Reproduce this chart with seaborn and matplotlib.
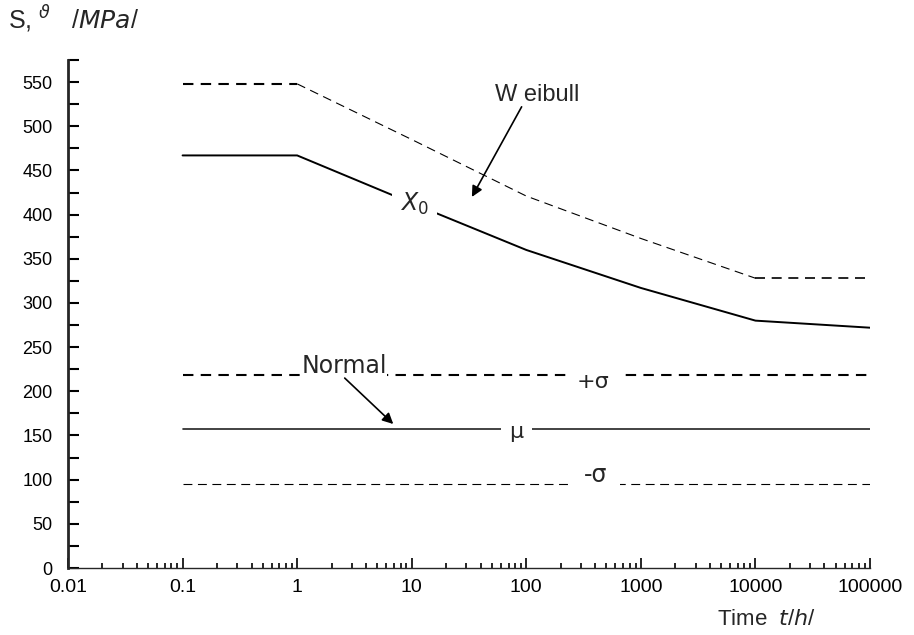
import numpy as np
import pandas as pd
import matplotlib.pyplot as plt
import matplotlib.ticker as mticker
import seaborn as sns

# Valeurs (temps en h, contrainte en MPa)
t_start = [0.1, 1]
weibull_start = [548, 548]
t_weibull_slope = [1, 10, 100, 1000, 10000]
weibull_slope = [548, 485, 421, 373, 328]
t_weibull_tail = [10000, 100000]
weibull_tail = [328, 328]

t_x0 = [0.1, 1, 10, 100, 1000, 10000, 100000]
x0_values = [467, 467, 413, 360, 317, 280, 272]

t_normal = [0.1, 100000]
plus_sigma = [218, 218]
mu = [157, 157]
minus_sigma = [95, 95]

x_ticks = [0.01, 0.1, 1, 10, 100, 1000, 10000, 100000]
x_tick_labels = ["0.01", "0.1", "1", "10", "100", "1000", "10000", "100000"]
y_ticks = list(range(0, 551, 50))

sns.set_style("ticks")
plt.rcParams["font.family"] = ["Liberation Sans", "DejaVu Sans"]

fig = plt.figure(figsize=(9.14, 6.35), dpi=100)
ax = fig.add_axes([0.0744, 0.1055, 0.8775, 0.80])

# Courbes Weibull
sns.lineplot(x=t_start, y=weibull_start, ax=ax, color="black", lw=1.5,
             linestyle=(0, (5, 3.5)))
sns.lineplot(x=t_weibull_slope, y=weibull_slope, ax=ax, color="black", lw=0.8,
             linestyle=(0, (8, 5)))
sns.lineplot(x=t_weibull_tail, y=weibull_tail, ax=ax, color="black", lw=1.2,
             linestyle=(0, (6, 4)))
sns.lineplot(x=t_x0, y=x0_values, ax=ax, color="black", lw=1.4)

# Courbes normales
sns.lineplot(x=t_normal, y=plus_sigma, ax=ax, color="black", lw=1.5,
             linestyle=(0, (5, 3.5)))
sns.lineplot(x=t_normal, y=mu, ax=ax, color="#222222", lw=1.2)
sns.lineplot(x=t_normal, y=minus_sigma, ax=ax, color="black", lw=0.8,
             linestyle=(0, (8, 5)))

ax.set_xscale("log")
ax.set_xlim(0.01, 100000)
ax.set_ylim(0, 575)
ax.set_xticks(x_ticks)
ax.set_xticklabels(x_tick_labels)
ax.xaxis.set_minor_locator(mticker.LogLocator(base=10, subs=np.arange(2, 10), numticks=20))
ax.xaxis.set_minor_formatter(mticker.NullFormatter())
ax.set_yticks(y_ticks)
ax.yaxis.set_minor_locator(mticker.MultipleLocator(25))
ax.tick_params(axis="both", which="both", direction="in", colors="black")
ax.tick_params(axis="x", which="major", length=7, width=1.2, pad=8, labelsize=14)
ax.tick_params(axis="x", which="minor", length=3.5, width=1.2)
ax.tick_params(axis="y", which="major", length=8, width=1.5, pad=11, labelsize=13)
ax.tick_params(axis="y", which="minor", length=8, width=1.5)
sns.despine(ax=ax)
ax.spines["left"].set_linewidth(2)
ax.spines["bottom"].set_linewidth(1)
ax.set_xlabel("")
ax.set_ylabel("")

white = dict(facecolor="white", edgecolor="none")

ax.text(124, 535, "W eibull", fontsize=17, ha="center", va="center")
ax.annotate("", xy=(33.5, 420), xytext=(91, 522),
            arrowprops=dict(arrowstyle="-|>", color="black", lw=1.2,
                            mutation_scale=16, shrinkA=0, shrinkB=0))
ax.text(10.5, 412, "$X_0$", fontsize=17, ha="center", va="center",
        bbox=dict(white, pad=6))

ax.text(2.6, 229, "Normal", fontsize=17, ha="center", va="center",
        family="DejaVu Sans", bbox=dict(white, pad=0))
ax.annotate("", xy=(6.9, 163), xytext=(2.6, 215),
            arrowprops=dict(arrowstyle="-|>", color="black", lw=1.2,
                            mutation_scale=16, shrinkA=0, shrinkB=0))
ax.text(380, 210, "+σ", fontsize=16, ha="center", va="center",
        family="DejaVu Sans", bbox=dict(white, pad=7))
ax.text(82, 154, "μ", fontsize=16, ha="center", va="center",
        family="DejaVu Sans", bbox=dict(white, pad=6))
ax.text(400, 105, "-σ", fontsize=17, ha="center", va="center",
        family="DejaVu Sans", bbox=dict(white, pad=9))

fig.text(0.009, 0.97, "S, $^{\\vartheta}$   /$MPa$/", fontsize=18, ha="left", va="center")
fig.text(0.785, 0.024, "Time  $t$/$h$/", fontsize=16, ha="left", va="center")

fig.savefig("out.png", dpi=100)
